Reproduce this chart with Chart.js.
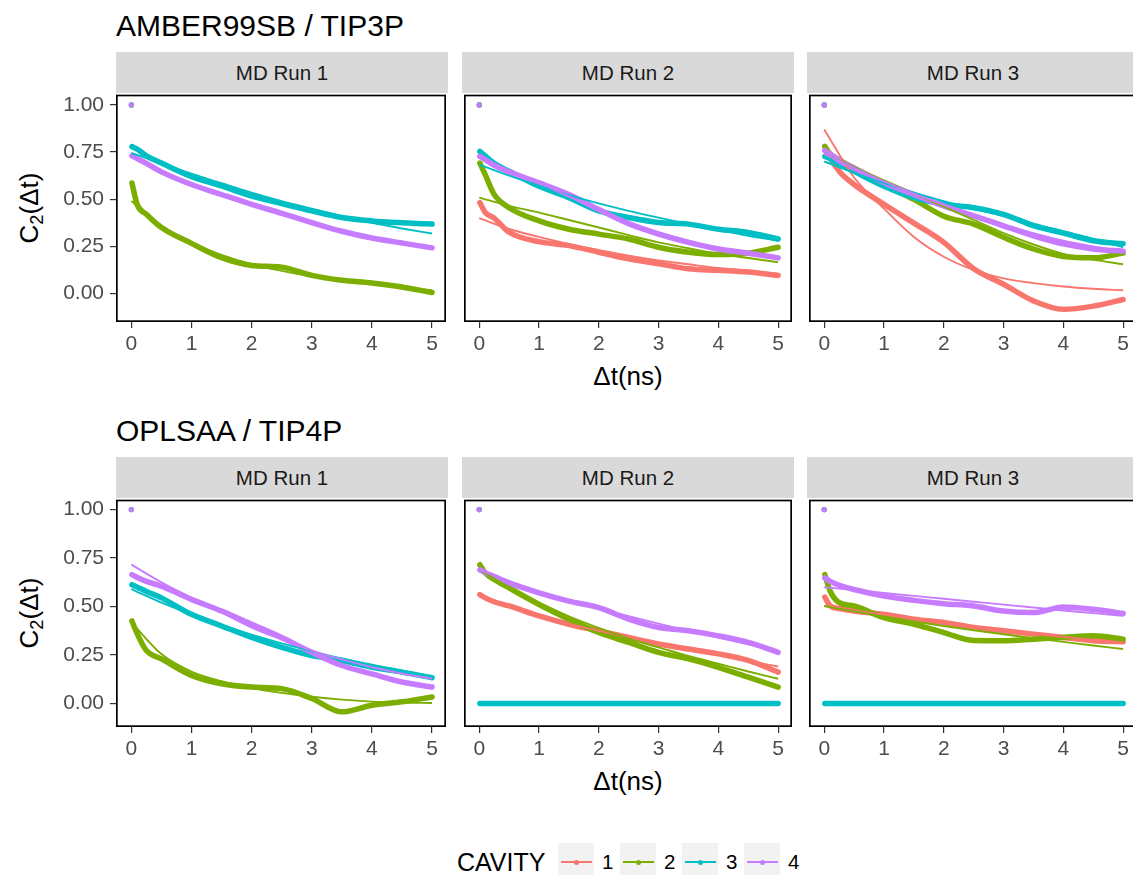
<!DOCTYPE html>
<html>
<head>
<meta charset="utf-8">
<script src="https://cdn.jsdelivr.net/npm/chart.js@4.4.1/dist/chart.umd.min.js"></script>
<style>
  body { margin: 0; background: #fff; }
  #fig { position: relative; width: 1133px; height: 875px; overflow: hidden; background: #fff;
         font-family: 'Liberation Sans', Arial, Helvetica, sans-serif; }
  .abs { position: absolute; white-space: nowrap; line-height: 1; }
  .strip { position: absolute; background: #d9d9d9; color: #1a1a1a; font-size: 20.5px;
           display: flex; align-items: center; justify-content: center; }
  .key { position: absolute; background: #f2f2f2; }
  .key .ln { position: absolute; left: 3px; right: 2px; height: 2.2px; }
  .key .dot { position: absolute; width: 5px; height: 5px; border-radius: 50%; }
  sub { font-size: 0.7em; vertical-align: -0.25em; line-height: 0; }
</style>
</head>
<body>
<div id="fig"></div>
<script>
// ---- data ----
const forceFields = ['AMBER99SB / TIP3P', 'OPLSAA / TIP4P'];
const runs = ['MD Run 1', 'MD Run 2', 'MD Run 3'];
const cavities = ['1', '2', '3', '4'];
const cavityColors = ['#F8766D', '#7CAE00', '#00BFC4', '#C77CFF'];

const xTicks = [0, 1, 2, 3, 4, 5];
const yTicks = [0, 0.25, 0.5, 0.75, 1];
const yTickLabels = ['0.00', '0.25', '0.50', '0.75', '1.00'];

const c2Start = 1.0;   // C2 at dt = 0
const timeNs    = [0.01, 0.1, 0.25, 0.5, 1.0, 1.5, 2.0, 2.5, 3.0, 3.5, 4.0, 4.5, 5.0];
const fitTimeNs = [0, 0.5, 1, 1.5, 2, 2.5, 3, 3.5, 4, 4.5, 5];

// AMBER99SB / TIP3P, run 1
const amberRun1Cav2 = [0.586, 0.47, 0.42, 0.35, 0.266, 0.19, 0.149, 0.14, 0.096, 0.07, 0.056, 0.035, 0.005];
const amberRun1Cav3 = [0.779, 0.765, 0.73, 0.692, 0.62, 0.57, 0.517, 0.477, 0.438, 0.403, 0.385, 0.375, 0.368];
const amberRun1Cav4 = [0.73, 0.715, 0.69, 0.645, 0.578, 0.525, 0.473, 0.425, 0.376, 0.33, 0.294, 0.268, 0.242];
const amberRun1Fit2 = [0.49, 0.36, 0.27, 0.205, 0.155, 0.12, 0.09, 0.068, 0.05, 0.033, 0.018];
const amberRun1Fit3 = [0.745, 0.69, 0.635, 0.585, 0.535, 0.49, 0.45, 0.41, 0.375, 0.345, 0.318];
const amberRun1Fit4 = [0.73, 0.645, 0.578, 0.522, 0.473, 0.425, 0.378, 0.335, 0.298, 0.268, 0.242];

// AMBER99SB / TIP3P, run 2
const amberRun2Cav1 = [0.482, 0.43, 0.40, 0.325, 0.275, 0.254, 0.219, 0.184, 0.158, 0.131, 0.123, 0.114, 0.096];
const amberRun2Cav2 = [0.692, 0.63, 0.525, 0.455, 0.385, 0.341, 0.315, 0.289, 0.245, 0.219, 0.207, 0.214, 0.245];
const amberRun2Cav3 = [0.753, 0.73, 0.69, 0.648, 0.569, 0.508, 0.438, 0.403, 0.377, 0.368, 0.341, 0.324, 0.289];
const amberRun2Cav4 = [0.727, 0.71, 0.68, 0.645, 0.587, 0.525, 0.445, 0.37, 0.315, 0.271, 0.236, 0.214, 0.189];
const amberRun2Fit1 = [0.40, 0.342, 0.30, 0.262, 0.23, 0.20, 0.175, 0.155, 0.135, 0.12, 0.105];
const amberRun2Fit2 = [0.508, 0.465, 0.429, 0.39, 0.35, 0.31, 0.271, 0.24, 0.21, 0.188, 0.166];
const amberRun2Fit3 = [0.683, 0.625, 0.572, 0.522, 0.478, 0.438, 0.402, 0.368, 0.336, 0.306, 0.28];
const amberRun2Fit4 = [0.73, 0.65, 0.585, 0.515, 0.445, 0.38, 0.325, 0.28, 0.24, 0.21, 0.19];

// AMBER99SB / TIP3P, run 3
const amberRun3Cav1 = [0.78, 0.72, 0.648, 0.578, 0.473, 0.373, 0.271, 0.131, 0.049, -0.039, -0.084, -0.067, -0.032];
const amberRun3Cav2 = [0.779, 0.74, 0.709, 0.665, 0.578, 0.499, 0.41, 0.368, 0.298, 0.236, 0.196, 0.189, 0.214];
const amberRun3Cav3 = [0.727, 0.715, 0.69, 0.648, 0.569, 0.508, 0.473, 0.455, 0.42, 0.36, 0.32, 0.28, 0.264];
const amberRun3Cav4 = [0.757, 0.74, 0.705, 0.665, 0.587, 0.525, 0.464, 0.412, 0.359, 0.306, 0.263, 0.236, 0.224];
const amberRun3Fit1 = [0.87, 0.615, 0.45, 0.30, 0.195, 0.125, 0.08, 0.055, 0.037, 0.025, 0.017];
const amberRun3Fit2 = [0.74, 0.67, 0.60, 0.53, 0.46, 0.39, 0.32, 0.26, 0.21, 0.18, 0.155];
const amberRun3Fit3 = [0.70, 0.64, 0.585, 0.535, 0.49, 0.45, 0.41, 0.37, 0.33, 0.29, 0.245];
const amberRun3Fit4 = [0.74, 0.665, 0.595, 0.53, 0.47, 0.415, 0.365, 0.32, 0.28, 0.25, 0.225];

// OPLSAA / TIP4P, run 1
const oplsRun1Cav2 = [0.426, 0.358, 0.273, 0.23, 0.145, 0.102, 0.085, 0.077, 0.026, -0.043, -0.009, 0.009, 0.034];
const oplsRun1Cav3 = [0.613, 0.60, 0.578, 0.545, 0.46, 0.40, 0.341, 0.29, 0.247, 0.222, 0.187, 0.162, 0.133];
const oplsRun1Cav4 = [0.665, 0.65, 0.63, 0.605, 0.537, 0.477, 0.409, 0.341, 0.264, 0.196, 0.153, 0.111, 0.085];
const oplsRun1Fit2 = [0.42, 0.255, 0.165, 0.115, 0.08, 0.055, 0.035, 0.02, 0.01, 0.005, 0.003];
const oplsRun1Fit3 = [0.59, 0.52, 0.46, 0.405, 0.355, 0.31, 0.27, 0.232, 0.20, 0.17, 0.14];
const oplsRun1Fit4 = [0.716, 0.625, 0.545, 0.47, 0.392, 0.33, 0.273, 0.228, 0.187, 0.155, 0.128];

// OPLSAA / TIP4P, run 2
const oplsRun2Cav1 = [0.562, 0.545, 0.525, 0.503, 0.452, 0.409, 0.375, 0.341, 0.307, 0.281, 0.256, 0.222, 0.162];
const oplsRun2Cav2 = [0.716, 0.673, 0.64, 0.596, 0.511, 0.435, 0.366, 0.315, 0.264, 0.23, 0.187, 0.136, 0.085];
const oplsRun2Cav3 = [0, 0, 0, 0, 0, 0, 0, 0, 0, 0, 0, 0, 0];
const oplsRun2Cav4 = [0.69, 0.675, 0.655, 0.622, 0.571, 0.528, 0.494, 0.435, 0.392, 0.375, 0.349, 0.315, 0.264];
const oplsRun2Fit1 = [0.56, 0.505, 0.455, 0.412, 0.375, 0.34, 0.307, 0.277, 0.25, 0.22, 0.191];
const oplsRun2Fit2 = [0.69, 0.60, 0.52, 0.45, 0.39, 0.335, 0.29, 0.245, 0.205, 0.165, 0.128];
const oplsRun2Fit4 = [0.69, 0.63, 0.578, 0.532, 0.49, 0.45, 0.412, 0.375, 0.34, 0.305, 0.27];

// OPLSAA / TIP4P, run 3
const oplsRun3Cav1 = [0.549, 0.503, 0.49, 0.477, 0.46, 0.435, 0.418, 0.392, 0.375, 0.358, 0.341, 0.324, 0.319];
const oplsRun3Cav2 = [0.665, 0.579, 0.52, 0.503, 0.443, 0.409, 0.366, 0.325, 0.324, 0.332, 0.341, 0.349, 0.332];
const oplsRun3Cav3 = [0, 0, 0, 0, 0, 0, 0, 0, 0, 0, 0, 0, 0];
const oplsRun3Cav4 = [0.648, 0.63, 0.61, 0.588, 0.554, 0.532, 0.515, 0.503, 0.477, 0.469, 0.498, 0.486, 0.464];
const oplsRun3Fit1 = [0.503, 0.48, 0.458, 0.437, 0.417, 0.397, 0.378, 0.36, 0.343, 0.328, 0.315];
const oplsRun3Fit2 = [0.503, 0.475, 0.448, 0.423, 0.40, 0.378, 0.357, 0.337, 0.318, 0.299, 0.281];
const oplsRun3Fit4 = [0.60, 0.585, 0.57, 0.555, 0.54, 0.525, 0.51, 0.495, 0.48, 0.466, 0.452];

const panels = [
  { row: 0, col: 0, data: [null, amberRun1Cav2, amberRun1Cav3, amberRun1Cav4], fits: [null, amberRun1Fit2, amberRun1Fit3, amberRun1Fit4] },
  { row: 0, col: 1, data: [amberRun2Cav1, amberRun2Cav2, amberRun2Cav3, amberRun2Cav4], fits: [amberRun2Fit1, amberRun2Fit2, amberRun2Fit3, amberRun2Fit4] },
  { row: 0, col: 2, data: [amberRun3Cav1, amberRun3Cav2, amberRun3Cav3, amberRun3Cav4], fits: [amberRun3Fit1, amberRun3Fit2, amberRun3Fit3, amberRun3Fit4] },
  { row: 1, col: 0, data: [null, oplsRun1Cav2, oplsRun1Cav3, oplsRun1Cav4], fits: [null, oplsRun1Fit2, oplsRun1Fit3, oplsRun1Fit4] },
  { row: 1, col: 1, data: [oplsRun2Cav1, oplsRun2Cav2, oplsRun2Cav3, oplsRun2Cav4], fits: [oplsRun2Fit1, oplsRun2Fit2, null, oplsRun2Fit4] },
  { row: 1, col: 2, data: [oplsRun3Cav1, oplsRun3Cav2, oplsRun3Cav3, oplsRun3Cav4], fits: [oplsRun3Fit1, oplsRun3Fit2, null, oplsRun3Fit4] }
];

// ---- layout ----
const colLeft = [116, 462, 807];
const rowTop = [93, 498];
const panelW = 332, panelH = 229;
const stripH = 41;
const yAxisW = 60, xAxisH = 40;
const rowYMin = [-0.151, -0.121];
const rowYMax = [1.0525, 1.0496];
const xMin = -0.255, xMax = 5.232;

const fontFamily = "'Liberation Sans', Arial, Helvetica, sans-serif";
Chart.defaults.font.family = fontFamily;

const fig = document.getElementById('fig');

function addDiv(cls, html, css) {
  const d = document.createElement('div');
  d.className = cls;
  d.innerHTML = html;
  d.style.cssText = css;
  fig.appendChild(d);
  return d;
}

// black frame round each panel
const borderBox = {
  id: 'borderBox',
  afterDraw(chart) {
    const { ctx, chartArea: a } = chart;
    ctx.save();
    ctx.strokeStyle = '#000';
    ctx.lineWidth = 1.7;
    ctx.strokeRect(a.left + 0.85, a.top + 0.5, a.right - a.left - 1.7, a.bottom - a.top - 1.35);
    ctx.restore();
  }
};

function buildPanel(p) {
  const left = colLeft[p.col], top = rowTop[p.row];
  const firstCol = p.col === 0;
  const padL = firstCol ? yAxisW : 2;
  const w = padL + panelW + 2, h = 2 + panelH + xAxisH;
  const cv = document.createElement('canvas');
  cv.width = w; cv.height = h;
  cv.style.cssText = `position:absolute;left:${left - padL}px;top:${top - 2}px;width:${w}px;height:${h}px`;
  fig.appendChild(cv);

  const datasets = [];
  p.fits.forEach((f, k) => {
    if (!f) return;
    datasets.push({
      data: fitTimeNs.map((t, i) => ({ x: t, y: f[i] })),
      borderColor: cavityColors[k], borderWidth: 1.9, pointRadius: 0,
      cubicInterpolationMode: 'monotone', order: 4 - k
    });
  });
  p.data.forEach((d, k) => {
    if (!d) return;
    const pts = [{ x: 0, y: c2Start }, { x: 0.005, y: null }]
      .concat(timeNs.map((t, i) => ({ x: t, y: d[i] })));
    datasets.push({
      data: pts,
      borderColor: cavityColors[k], backgroundColor: cavityColors[k],
      borderWidth: 5.5, borderCapStyle: 'round', borderJoinStyle: 'round',
      pointRadius: c => (c.dataIndex === 0 ? 2.6 : 0), pointBorderWidth: 0,
      cubicInterpolationMode: 'monotone', spanGaps: false, order: 8 - k
    });
  });

  new Chart(cv, {
    type: 'line',
    data: { datasets },
    options: {
      responsive: false, animation: false, events: [],
      layout: { padding: { left: firstCol ? 0 : 2, right: 2, top: 2, bottom: 0 } },
      plugins: { legend: { display: false }, tooltip: { enabled: false } },
      scales: {
        x: {
          type: 'linear', min: xMin, max: xMax,
          afterBuildTicks: s => { s.ticks = xTicks.map(v => ({ value: v })); },
          afterFit: s => { s.height = xAxisH; s.paddingLeft = 0; s.paddingRight = 0; },
          grid: { drawOnChartArea: false, tickLength: 6, color: '#333333', lineWidth: 1.2 },
          border: { display: false },
          ticks: { color: '#4d4d4d', font: { size: 21 }, padding: 4, maxRotation: 0, autoSkip: false,
                   callback: v => String(v) }
        },
        y: {
          type: 'linear', display: firstCol, min: rowYMin[p.row], max: rowYMax[p.row],
          afterBuildTicks: s => { s.ticks = yTicks.map(v => ({ value: v })); },
          afterFit: s => { if (firstCol) { s.width = yAxisW; s.paddingTop = 0; s.paddingBottom = 0; } },
          grid: { drawOnChartArea: false, tickLength: 6, color: '#333333', lineWidth: 1.2 },
          border: { display: false },
          ticks: { color: '#4d4d4d', font: { size: 21 }, padding: 6, autoSkip: false,
                   callback: v => yTickLabels[yTicks.indexOf(v)] }
        }
      }
    },
    plugins: [borderBox]
  });
}

// titles, strips, axis titles
forceFields.forEach((ff, r) => {
  addDiv('abs', ff, `left:116px;top:${rowTop[r] - 82}px;font-size:30px;color:#000`);
  runs.forEach((run, c) => {
    addDiv('strip', run, `left:${colLeft[c]}px;top:${rowTop[r] - stripH}px;width:${panelW}px;height:${stripH}px`);
  });
  addDiv('abs', 'C<sub>2</sub>(Δt)',
    `left:29px;top:${rowTop[r] + panelH / 2}px;font-size:26px;color:#000;transform:translate(-50%,-50%) rotate(-90deg)`);
  addDiv('abs', 'Δt(ns)',
    `left:628px;top:${rowTop[r] + panelH + 54}px;font-size:26px;color:#000;transform:translate(-50%,-50%)`);
});

panels.forEach(buildPanel);

// legend
addDiv('abs', 'CAVITY', 'left:457px;top:861.5px;font-size:25px;color:#000;transform:translateY(-50%)');
cavities.forEach((cv, k) => {
  const x = 558 + k * 62;
  const key = addDiv('key', '', `left:${x}px;top:843px;width:36px;height:36px`);
  const ln = document.createElement('div');
  ln.className = 'ln'; ln.style.top = '17.9px'; ln.style.background = cavityColors[k];
  key.appendChild(ln);
  const dot = document.createElement('div');
  dot.className = 'dot'; dot.style.left = '16px'; dot.style.top = '16.5px'; dot.style.background = cavityColors[k];
  key.appendChild(dot);
  addDiv('abs', cv, `left:${x + 44}px;top:862px;font-size:20.5px;color:#000;transform:translateY(-50%)`);
});
</script>
</body>
</html>
